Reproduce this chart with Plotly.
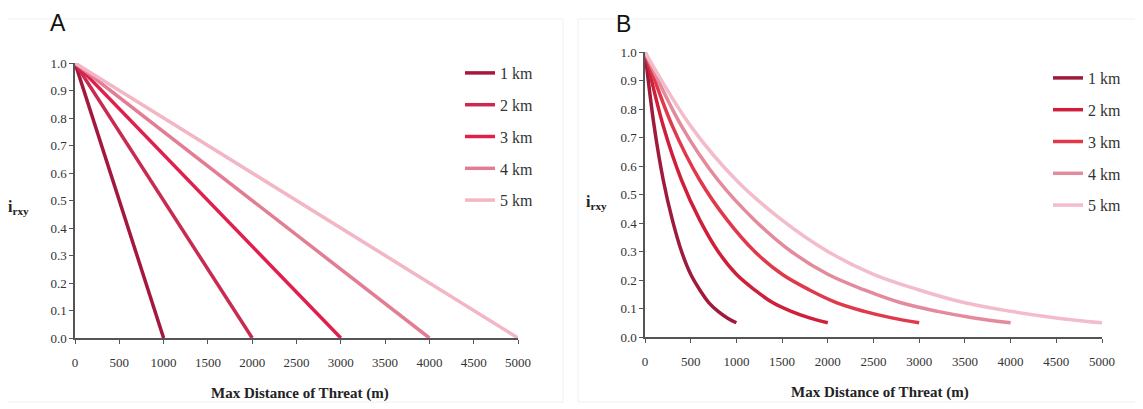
import plotly.graph_objects as go

# ranges of the threat (km) shown as series
ranges_km = ["1 km", "2 km", "3 km", "4 km", "5 km"]

# panel A: linear decline, end points
a_dist = {
    "1 km": [0, 1000],
    "2 km": [0, 2000],
    "3 km": [0, 3000],
    "4 km": [0, 4000],
    "5 km": [0, 5000],
}
a_irxy = [1.0, 0.0]

# panel B: curves, values read at tenths of each range
b_dist = {
    "1 km": [0, 100, 200, 300, 400, 500, 600, 700, 800, 900, 1000],
    "2 km": [0, 200, 400, 600, 800, 1000, 1200, 1400, 1600, 1800, 2000],
    "3 km": [0, 300, 600, 900, 1200, 1500, 1800, 2100, 2400, 2700, 3000],
    "4 km": [0, 400, 800, 1200, 1600, 2000, 2400, 2800, 3200, 3600, 4000],
    "5 km": [0, 500, 1000, 1500, 2000, 2500, 3000, 3500, 4000, 4500, 5000],
}
b_irxy = [1.0, 0.74, 0.55, 0.41, 0.30, 0.22, 0.165, 0.12, 0.09, 0.067, 0.05]

x_ticks = [0, 500, 1000, 1500, 2000, 2500, 3000, 3500, 4000, 4500, 5000]
y_ticks = [0.0, 0.1, 0.2, 0.3, 0.4, 0.5, 0.6, 0.7, 0.8, 0.9, 1.0]

colors_a = ["#a3183c", "#c92a50", "#e0204c", "#e27d93", "#f2b6c4"]
colors_b = ["#9e1b3c", "#cf1f3a", "#e0394c", "#e38a9c", "#f2bccb"]

# page body has an 8px margin, so the figure is a bit smaller and positions
# below are given in window pixels
OFF = 8
W, H = 1143 - OFF, 409 - OFF


def px(x):
    return (x - OFF) / W


def py(y):
    return 1 - (y - OFF) / H


fig = go.Figure()

for i, r in enumerate(ranges_km):
    fig.add_trace(go.Scatter(x=a_dist[r], y=a_irxy, mode="lines", name=r,
                             line=dict(color=colors_a[i], width=3.5),
                             xaxis="x", yaxis="y", legend="legend",
                             legendgroup="a" + r, cliponaxis=False))
for i, r in enumerate(ranges_km):
    fig.add_trace(go.Scatter(x=b_dist[r], y=b_irxy, mode="lines", name=r,
                             line=dict(color=colors_b[i], width=3.5, shape="spline"),
                             xaxis="x2", yaxis="y2", legend="legend2",
                             legendgroup="b" + r, cliponaxis=False))

tickfont = dict(family="Liberation Serif", size=13, color="#333")
ax = dict(range=[0, 5000], tickvals=x_ticks, showgrid=False, zeroline=False,
          showline=True, linecolor="#555", linewidth=1.5, ticks="outside",
          ticklen=4, tickcolor="#555", tickfont=tickfont, automargin=False,
          ticklabelstandoff=8)
ay = dict(range=[0, 1.0], tickvals=y_ticks, tickformat=".1f", showgrid=False,
          zeroline=False, showline=True, linecolor="#555", linewidth=1.5,
          ticks="outside", ticklen=4, tickcolor="#555", tickfont=tickfont,
          automargin=False)

legfont = dict(family="Liberation Serif", size=16, color="#333")
fig.update_layout(
    width=W, height=H, margin=dict(l=0, r=0, t=0, b=0),
    paper_bgcolor="white", plot_bgcolor="white",
    xaxis=dict(ax, domain=[px(75), px(518)], anchor="y"),
    yaxis=dict(ay, domain=[py(338), py(63)], anchor="x"),
    xaxis2=dict(ax, domain=[px(645), px(1102)], anchor="y2"),
    yaxis2=dict(ay, domain=[py(337), py(52)], anchor="x2"),
    legend=dict(x=px(460), y=py(56), xanchor="left", yanchor="top",
                font=legfont, tracegroupgap=8, traceorder="grouped",
                itemwidth=30, bgcolor="rgba(0,0,0,0)"),
    legend2=dict(x=px(1048), y=py(61), xanchor="left", yanchor="top",
                 font=legfont, tracegroupgap=8, traceorder="grouped",
                 itemwidth=30, bgcolor="rgba(0,0,0,0)"),
    showlegend=True,
)


def label(text, x, y, font):
    fig.add_annotation(text=text, x=px(x), y=py(y), xref="paper", yref="paper",
                       xanchor="center", yanchor="middle", showarrow=False, font=font)


title_font = dict(family="Liberation Serif", size=15, color="#222")
label("<b>Max Distance of Threat (m)</b>", 300, 393, title_font)
label("<b>Max Distance of Threat (m)</b>", 880, 392, title_font)
irxy_font = dict(family="Liberation Serif", size=16, color="#222")
label("<b>i<sub>rxy</sub></b>", 18, 207, irxy_font)
label("<b>i<sub>rxy</sub></b>", 597, 202, irxy_font)
panel_font = dict(family="Liberation Sans", size=23, color="#111")
label("A", 58, 23, panel_font)
label("B", 623, 24, panel_font)

# faint panel frames
fig.add_shape(type="rect", xref="paper", yref="paper", x0=px(5), x1=px(563),
              y0=py(402), y1=py(19), line=dict(color="#f0f0f0", width=1))
fig.add_shape(type="rect", xref="paper", yref="paper", x0=px(578), x1=px(1140),
              y0=py(402), y1=py(19), line=dict(color="#f0f0f0", width=1))

fig.write_html("out.html")
